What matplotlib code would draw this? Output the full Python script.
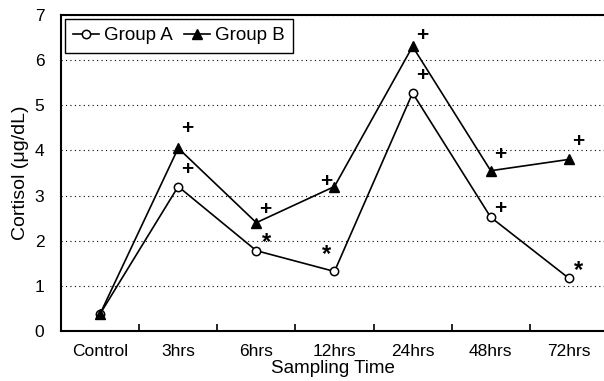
import matplotlib.pyplot as plt

plt.rcParams['font.family'] = ['Liberation Sans', 'DejaVu Sans']

times = ['Control', '3hrs', '6hrs', '12hrs', '24hrs', '48hrs', '72hrs']
group_a = [0.38, 3.2, 1.78, 1.32, 5.27, 2.52, 1.17]
group_b = [0.38, 4.05, 2.4, 3.2, 6.3, 3.55, 3.8]
# significance marks: (index, x offset, y, symbol)
marks_a = [(1, 0.12, 3.58, '+'), (2, 0.13, 1.95, '*'), (3, -0.1, 1.7, '*'),
           (4, 0.12, 5.66, '+'), (5, 0.12, 2.72, '+'), (6, 0.13, 1.33, '*')]
marks_b = [(1, 0.12, 4.48, '+'), (2, 0.12, 2.7, '+'), (3, -0.1, 3.32, '+'),
           (4, 0.12, 6.55, '+'), (5, 0.12, 3.9, '+'), (6, 0.12, 4.2, '+')]

fig = plt.figure(figsize=(6.04, 3.81), dpi=100)
ax = fig.add_axes([0.101, 0.131, 0.899, 0.830])

x = range(len(times))
ax.plot(x, group_a, color='black', lw=1.2, marker='o', ms=6, mfc='white', mec='black', mew=1.1, label='Group A')
ax.plot(x, group_b, color='black', lw=1.2, marker='^', ms=7, mfc='black', mec='black', label='Group B')

for i, dx, y, s in marks_a + marks_b:
    ax.text(i + dx, y, s, ha='center', va='center', fontsize=15 if s == '+' else 17,
            fontweight='bold')

ax.set_xlim(-0.5, 6.45)
ax.set_ylim(0, 7)
ax.set_yticks(range(8))
ax.set_xticks(x)
ax.set_xticklabels(times)
ax.set_xticks([i + 0.5 for i in range(6)], minor=True)
ax.tick_params(axis='x', which='major', length=0, labelsize=12.5, pad=9)
ax.tick_params(axis='x', which='minor', length=5, direction='in', width=1.2)
ax.tick_params(axis='y', length=0, labelsize=12.5, pad=12)
ax.yaxis.grid(True, linestyle=(0, (1, 3)), color='black', lw=0.8)

for side in ['left', 'bottom', 'top']:
    ax.spines[side].set_linewidth(1.5)
ax.spines['right'].set_visible(False)

ax.set_xlabel('Sampling Time', fontsize=13.5, labelpad=1)
ax.set_ylabel('Cortisol (μg/dL)', fontsize=14, labelpad=4)

leg = ax.legend(loc='upper left', ncol=2, fontsize=13.5, frameon=True, fancybox=False,
                edgecolor='black', handlelength=1.4, handletextpad=0.25, columnspacing=0.6,
                borderpad=0.45, borderaxespad=0.2, framealpha=1)
leg.get_frame().set_linewidth(1.0)

fig.savefig('out.png', dpi=100)
